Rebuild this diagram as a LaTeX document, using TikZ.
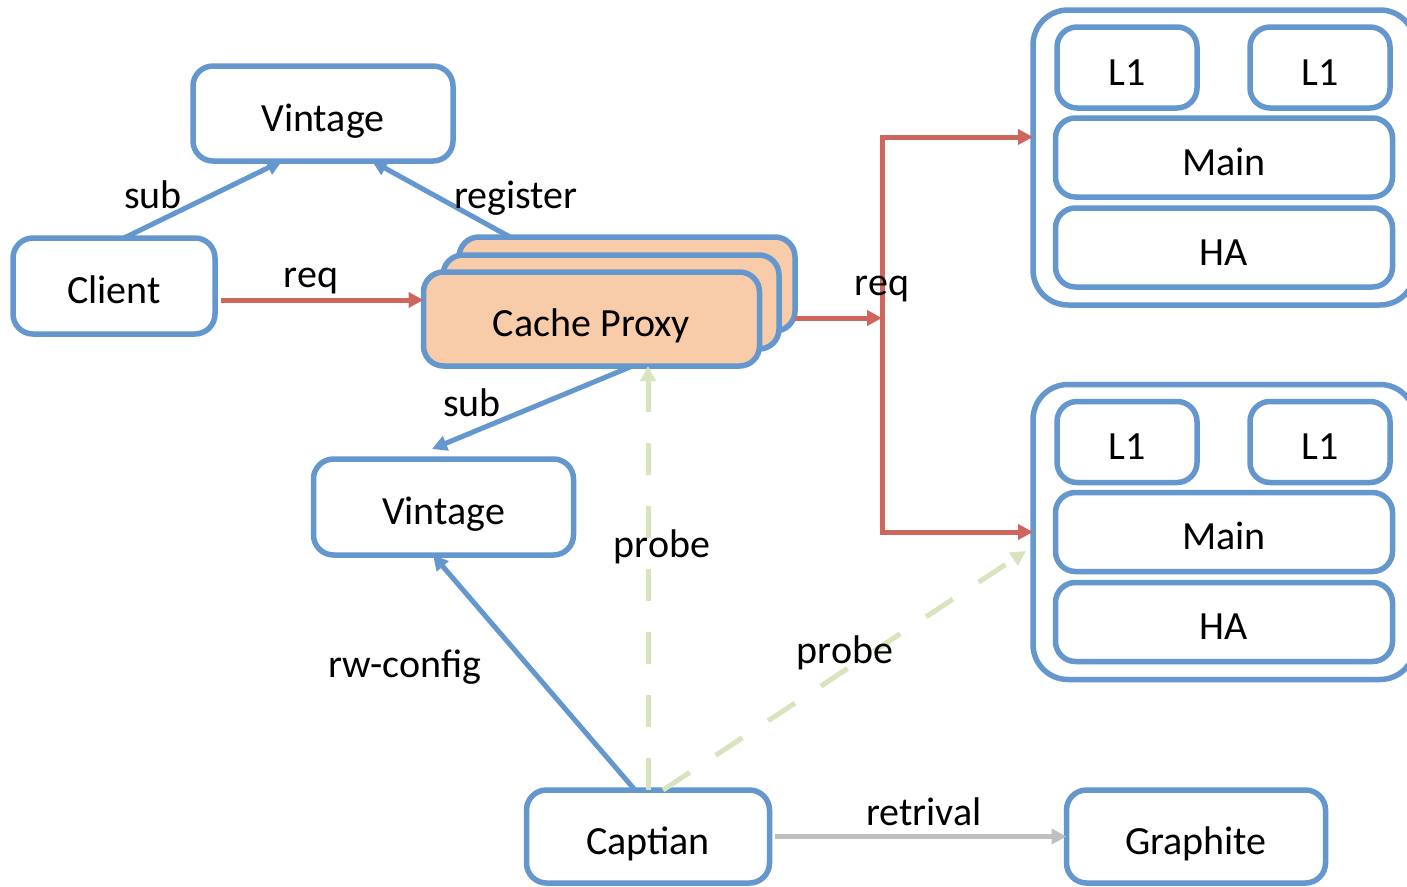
\documentclass[tikz,border=0pt]{standalone}
\usepackage{fontspec}
\setmainfont{Carlito}
\usetikzlibrary{arrows.meta,calc}
\definecolor{bblue}{RGB}{99,151,205}
\definecolor{peach}{RGB}{248,203,169}
\definecolor{rred}{RGB}{207,102,94}
\definecolor{lgreen}{RGB}{215,228,189}
\definecolor{lgray}{RGB}{191,191,191}
\tikzset{
  x=1pt,y=-1pt,
  box/.style={draw=bblue,line width=5.5pt,rounded corners=20pt,fill=white,outer sep=0pt,
    font=\fontsize{40}{48}\selectfont,text height=35pt,text depth=0pt,inner sep=0pt},
  proxybox/.style={box,fill=peach,minimum width=336pt,minimum height=94pt},
  lbl/.style={font=\fontsize{40}{48}\selectfont,anchor=base,inner sep=0pt},
  tip/.style={-{Triangle[length=15pt,width=15pt]}},
  redarrow/.style={draw=rred,line width=5pt},
  bluearrow/.style={draw=bblue,line width=5pt,tip},
  greenarrow/.style={draw=lgreen,line width=5pt,dash pattern=on 32pt off 31pt,tip},
  grayarrow/.style={draw=lgray,line width=5pt,tip},
}
\begin{document}
\begin{tikzpicture}
\useasboundingbox (0,0) rectangle (1407,886);
\clip (0,0) rectangle (1407,886);
\fill[white] (0,0) rectangle (1407,886);

% nodes
\node[box,minimum width=260pt,minimum height=95pt] (vt) at (323,113.5) {Vintage};
\node[box,minimum width=202pt,minimum height=96pt] (client) at (114,286) {Client};
\node[proxybox] (back) at (627,284) {};
\node[proxybox] (mid) at (611,302) {};
\node[proxybox] (front) at (591.5,319) {Cache Proxy};
\node[box,minimum width=260pt,minimum height=96pt] (vm) at (443.5,507) {Vintage};
\node[box,minimum width=243pt,minimum height=93pt] (cap) at (648,836.5) {Captian};
\node[box,minimum width=259pt,minimum height=93pt] (graphite) at (1196,836.5) {Graphite};

% storage group 1
\node[box,rounded corners=35pt,minimum width=382pt,minimum height=295pt] (o1) at (1224,157.5) {};
\node[box,minimum width=140pt,minimum height=81pt] (l1a) at (1127,67.5) {L1};
\node[box,minimum width=140pt,minimum height=81pt] (l1b) at (1320,67.5) {L1};
\node[box,minimum width=337pt,minimum height=79pt] (main1) at (1224,157.5) {Main};
\node[box,minimum width=337pt,minimum height=79pt] (ha1) at (1224,247.5) {HA};

% storage group 2
\node[box,rounded corners=35pt,minimum width=382pt,minimum height=295pt] (o2) at (1224,532) {};
\node[box,minimum width=140pt,minimum height=81pt] (l1c) at (1127,442) {L1};
\node[box,minimum width=140pt,minimum height=81pt] (l1d) at (1320,442) {L1};
\node[box,minimum width=337pt,minimum height=79pt] (main2) at (1224,532) {Main};
\node[box,minimum width=337pt,minimum height=79pt] (ha2) at (1224,622) {HA};

% junction coordinates
\coordinate (j) at (882,318);
\coordinate (j1) at (882,137);
\coordinate (j2) at (882,532);
\coordinate (cstart) at (221,300);

% red request arrows
\draw[redarrow,tip] (cstart) -- (cstart -| front.west);
\draw[redarrow,tip] (back.east |- j) -- (j);
\draw[redarrow,{Triangle[length=15pt,width=15pt]}-{Triangle[length=15pt,width=15pt]}]
  (j1 -| o1.west) -- (j1) -- (j2) -- (j2 -| o2.west);

% blue arrows
\draw[bluearrow] ([xshift=10pt]client.north) -- ([xshift=-41pt]vt.south);
\draw[bluearrow] ([xshift=-117pt]back.north) -- ([xshift=49pt]vt.south);
\draw[bluearrow] ([xshift=41pt]front.south) -- ([xshift=-11.5pt,yshift=10pt]vm.north);
\draw[bluearrow] ([xshift=-13pt]cap.north) -- ([xshift=-10.5pt]vm.south);

% green probe arrows
\draw[greenarrow] (cap.north) -- (cap.north |- front.south);
\draw[greenarrow] ([xshift=15pt]cap.north) -- ([xshift=-7pt,yshift=-19pt]o2.west);

% gray retrival arrow
\draw[grayarrow] ([xshift=5pt]cap.east) -- (graphite.west);

% labels
\node[lbl] (lsub1) at (153,208) {sub};
\node[lbl] (lreg) at (516,208) {register};
\node[lbl] (lreq1) at (311,287) {req};
\node[lbl] (lreq2) at (882,295) {req};
\node[lbl] (lsub2) at (472,416) {sub};
\node[lbl] (lprobe1) at (662,557) {probe};
\node[lbl] (lrw) at (405,677) {rw-config};
\node[lbl] (lprobe2) at (845,663) {probe};
\node[lbl] (lret) at (924,825) {retrival};
\end{tikzpicture}
\end{document}
